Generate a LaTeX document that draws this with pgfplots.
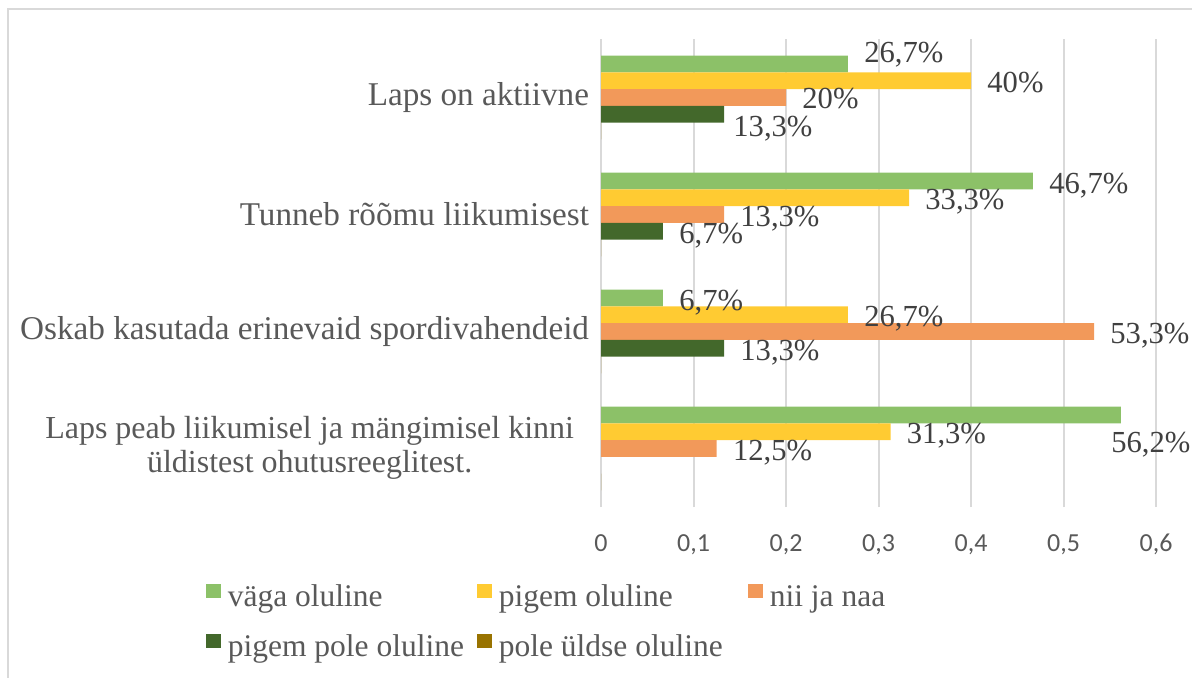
\documentclass[border=0pt]{standalone}
\usepackage{fontspec}
\setmainfont{Liberation Serif}
\newfontfamily\calibri{Carlito}
\usepackage{pgfplots}
\usepackage{pgfplotstable}
\pgfplotsset{compat=1.18}

\definecolor{cg}{HTML}{8CC168}
\definecolor{cy}{HTML}{FFCB32}
\definecolor{co}{HTML}{F2995A}
\definecolor{cd}{HTML}{43682B}
\definecolor{cb}{HTML}{997300}
\definecolor{txtgray}{HTML}{595959}
\definecolor{labgray}{HTML}{404040}
\definecolor{gridgray}{HTML}{D9D9D9}

% y: 0 = bottom category; gx = gap after bar end (px), sy = baseline shift (px, up)
\pgfplotstableread{
y x lab gx sy
3 0.267 26,7 16 1.5
2 0.467 46,7 16 -12
1 0.067 6,7 16 -12
0 0.562 56,2 -10 -37
}\tgreen
\pgfplotstableread{
y x lab gx sy
3 0.400 40 16 -12
2 0.333 33,3 16 -12
1 0.267 26,7 16 -12
0 0.313 31,3 16 -12
}\tyellow
\pgfplotstableread{
y x lab gx sy
3 0.200 20 16 -11
2 0.133 13,3 16 -12
1 0.533 53,3 16 -12
0 0.125 12,5 16 -12
}\torange
\pgfplotstableread{
y x lab gx sy
3 0.133 13,3 9 -22
2 0.067 6,7 16 -12
1 0.133 13,3 16 -12
}\tdark
\pgfplotstableread{
y x
3 0
2 0
1 0
0 0
}\tbrown

\begin{document}
\begin{tikzpicture}
\useasboundingbox (0,0) rectangle (596pt,-339pt);
\draw[gridgray, line width=1pt] (600pt,-4.75pt) -- (3.75pt,-4.75pt) -- (3.75pt,-345pt);
\begin{axis}[
    at={(300.5pt,-253.5pt)}, anchor=south west,
    scale only axis,
    width=277.5pt, height=234pt,
    xbar,
    bar width=0.142857,
    xmin=0, xmax=0.6,
    ymin=-0.5, ymax=3.5,
    axis line style={draw=none},
    tick style={draw=none},
    xmajorgrids,
    grid style={gridgray, line width=1pt},
    xtick={0,0.1,0.2,0.3,0.4,0.5,0.6},
    xticklabels={0,{0,1},{0,2},{0,3},{0,4},{0,5},{0,6}},
    xticklabel style={font=\calibri\fontsize{13}{15}\selectfont, text=txtgray,
        inner sep=0pt, yshift=-13.5pt},
    ytick={0,1,2,3},
    yticklabels={{\raisebox{-4pt}{\fontsize{16}{16.8}\selectfont\begin{tabular}{@{}c@{\hspace{7.5pt}}}Laps peab liikumisel ja mängimisel kinni\\üldistest ohutusreeglitest.\end{tabular}}},
        {Oskab kasutada erinevaid spordivahendeid},
        {Tunneb rõõmu liikumisest},
        {Laps on aktiivne}},
    yticklabel style={font=\fontsize{16.6}{16.8}\selectfont, text=txtgray,
        align=center, inner sep=0pt, xshift=-1.5pt},
    nodes near coords style={font=\fontsize{15.3}{17}\selectfont, text=labgray, inner sep=0pt},
    sq legend/.style={legend image code/.code={
        \fill[##1] (0pt,-3.625pt) rectangle (7.25pt,3.625pt);}},
    legend columns=3,
    legend cell align=left,
    legend style={at={(-0.7117,-0.1400)}, anchor=north west, draw=none,
        inner sep=0pt, outer sep=0pt, row sep=6.75pt, column sep=0pt,
        font=\fontsize{15.75}{18}\selectfont, text=txtgray,
        nodes={inner sep=0pt},
        /tikz/every odd column/.append style={column sep=3.65pt}},
]
\addplot[fill=cg, draw=none, bar shift=0.285714,
    nodes near coords={\pgfplotspointmeta\%}, point meta=explicit symbolic,
    visualization depends on={\thisrow{gx} \as \gx},
    visualization depends on={\thisrow{sy} \as \sy},
    every node near coord/.append style={anchor=base west, xshift=\gx*0.5pt, yshift=\sy*0.5pt},
    sq legend] table[x=x, y=y, meta=lab] {\tgreen};
\addlegendentry{\makebox[124.6pt][l]{\rule[-8.475pt]{0pt}{25.25pt}väga oluline}}
\addplot[fill=cy, draw=none, bar shift=0.142857,
    nodes near coords={\pgfplotspointmeta\%}, point meta=explicit symbolic,
    visualization depends on={\thisrow{gx} \as \gx},
    visualization depends on={\thisrow{sy} \as \sy},
    every node near coord/.append style={anchor=base west, xshift=\gx*0.5pt, yshift=\sy*0.5pt},
    sq legend] table[x=x, y=y, meta=lab] {\tyellow};
\addlegendentry{\makebox[124.6pt][l]{\rule[-8.475pt]{0pt}{25.25pt}pigem oluline}}
\addplot[fill=co, draw=none, bar shift=0,
    nodes near coords={\pgfplotspointmeta\%}, point meta=explicit symbolic,
    visualization depends on={\thisrow{gx} \as \gx},
    visualization depends on={\thisrow{sy} \as \sy},
    every node near coord/.append style={anchor=base west, xshift=\gx*0.5pt, yshift=\sy*0.5pt},
    sq legend] table[x=x, y=y, meta=lab] {\torange};
\addlegendentry{\makebox[124.6pt][l]{\rule[-8.475pt]{0pt}{25.25pt}nii ja naa}}
\addplot[fill=cd, draw=none, bar shift=-0.142857,
    nodes near coords={\pgfplotspointmeta\%}, point meta=explicit symbolic,
    visualization depends on={\thisrow{gx} \as \gx},
    visualization depends on={\thisrow{sy} \as \sy},
    every node near coord/.append style={anchor=base west, xshift=\gx*0.5pt, yshift=\sy*0.5pt},
    sq legend] table[x=x, y=y, meta=lab] {\tdark};
\addlegendentry{\makebox[124.6pt][l]{\rule[-8.475pt]{0pt}{25.25pt}pigem pole oluline}}
\addplot[fill=cb, draw=none, bar shift=-0.285714, sq legend]
    table[x=x, y=y] {\tbrown};
\addlegendentry{\makebox[124.6pt][l]{\rule[-8.475pt]{0pt}{25.25pt}pole üldse oluline}}
\end{axis}
\end{tikzpicture}
\end{document}
